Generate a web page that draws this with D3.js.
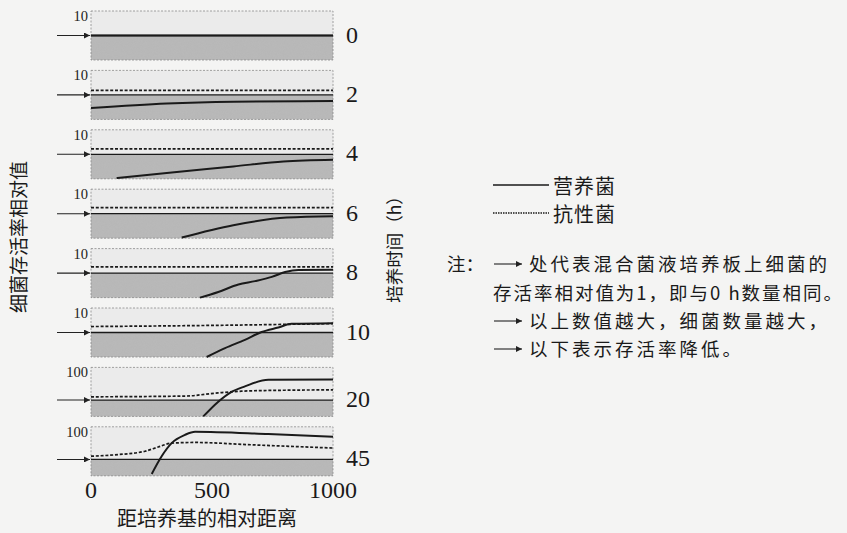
<!DOCTYPE html>
<html><head><meta charset="utf-8">
<script src="https://cdn.jsdelivr.net/npm/d3@7"></script>
<style>
html,body{margin:0;padding:0;background:#f4f4f3;}
svg{display:block;}
</style></head>
<body>
<svg id="chart" width="847" height="533"></svg>
<script>
// ---- data ----
const times = ["0", "2", "4", "6", "8", "10", "20", "45"];
const topTicks = [10, 10, 10, 10, 10, 10, 100, 100];
const xTicks = [0, 500, 1000];

// 营养菌 (solid) : [distance, relative survival]
const veg_0h  = [[0, 1], [1000, 1]];
const veg_2h  = [[0, 0.29], [313, 0.45], [588, 0.53], [1000, 0.56]];
const veg_4h  = [[106, 0.107], [313, 0.174], [588, 0.32], [795, 0.51], [1000, 0.6]];
const veg_6h  = [[375, 0.107], [588, 0.34], [809, 0.70], [1000, 0.79]];
const veg_8h  = [[450, 0.1], [526, 0.17], [609, 0.34], [678, 0.47], [747, 0.7], [802, 1.1], [857, 1.35], [1000, 1.38]];
const veg_10h = [[478, 0.1], [554, 0.23], [636, 0.5], [705, 1.05], [774, 1.6], [829, 2.25], [1000, 2.4]];
const veg_20h = [[464, 0.1], [526, 0.8], [581, 3.2], [636, 6.9], [733, 17.6], [1000, 18]];
const veg_45h = [[251, 0.13], [292, 1.58], [333, 10], [388, 32], [430, 50], [733, 36], [1000, 25]];

// 抗性菌 (dashed)
const res_0h  = [];
const res_2h  = [[0, 1.53], [1000, 1.53]];
const res_4h  = [[0, 1.65], [1000, 1.65]];
const res_6h  = [[0, 1.78], [1000, 1.78]];
const res_8h  = [[0, 1.78], [1000, 1.8]];
const res_10h = [[0, 1.75], [500, 1.95], [1000, 2.3]];
const res_20h = [[0, 1.58], [388, 1.76], [525, 2.75], [623, 3.5], [802, 4.0], [1000, 4.2]];
const res_45h = [[0, 1.58], [113, 2.0], [223, 3.2], [278, 5.8], [333, 10], [430, 11], [664, 7.9], [1000, 5.0]];

const vegSeries = [veg_0h, veg_2h, veg_4h, veg_6h, veg_8h, veg_10h, veg_20h, veg_45h];
const resSeries = [res_0h, res_2h, res_4h, res_6h, res_8h, res_10h, res_20h, res_45h];

const legendLabels = ["营养菌", "抗性菌"];
const noteLines = ["处代表混合菌液培养板上细菌的", "存活率相对值为1，即与0 h数量相同。", "以上数值越大，细菌数量越大，", "以下表示存活率降低。"];

// ---- drawing ----
const svg = d3.select("#chart");
const serif = "Liberation Serif, Times New Roman, serif";
const cjk = "Noto Sans CJK SC, Noto Sans, sans-serif";

const defs = svg.append("defs");
defs.append("marker").attr("id", "arr").attr("viewBox", "0 0 10 10")
  .attr("refX", 10).attr("refY", 5).attr("markerWidth", 7).attr("markerHeight", 6)
  .attr("markerUnits", "userSpaceOnUse").attr("orient", "auto")
  .append("path").attr("d", "M0,0 L10,5 L0,10 z").attr("fill", "#222");

const f = defs.append("filter").attr("id", "grain").attr("x", 0).attr("y", 0).attr("width", 1).attr("height", 1);
f.append("feTurbulence").attr("type", "fractalNoise").attr("baseFrequency", 0.9).attr("numOctaves", 2).attr("result", "n");
f.append("feColorMatrix").attr("in", "n").attr("type", "matrix")
  .attr("values", "0 0 0 0 0.45  0 0 0 0 0.45  0 0 0 0 0.45  0 0 0 0.35 0").attr("result", "g");
f.append("feComposite").attr("in", "g").attr("in2", "SourceGraphic").attr("operator", "in").attr("result", "gc");
const fm = f.append("feMerge");
fm.append("feMergeNode").attr("in", "SourceGraphic");
fm.append("feMergeNode").attr("in", "gc");

const x = d3.scaleLinear().domain([0, 1000]).range([91, 333]);
const panelH = 49, step = 59.4, firstTop = 11;

times.forEach((t, i) => {
  const top = firstTop + i * step;
  const y = d3.scaleLog().domain([0.1, topTicks[i]]).range([top + panelH, top]);
  const g = svg.append("g");
  const y1 = y(1);
  g.append("rect").attr("x", x(0)).attr("y", top).attr("width", x(1000) - x(0)).attr("height", y1 - top)
    .attr("fill", "#ebebeb");
  g.append("rect").attr("x", x(0)).attr("y", y1).attr("width", x(1000) - x(0)).attr("height", top + panelH - y1)
    .attr("fill", "#b9b9b9").attr("filter", "url(#grain)");
  g.append("rect").attr("x", x(0)).attr("y", top).attr("width", x(1000) - x(0)).attr("height", panelH)
    .attr("fill", "none").attr("stroke", "#8a8a8a").attr("stroke-width", 0.8).attr("stroke-dasharray", "2,1.5");
  g.append("line").attr("x1", x(0)).attr("x2", x(1000)).attr("y1", y1).attr("y2", y1)
    .attr("stroke", "#1a1a1a").attr("stroke-width", 1.3);
  g.append("line").attr("x1", 57).attr("x2", x(0) - 1).attr("y1", y1).attr("y2", y1)
    .attr("stroke", "#222").attr("stroke-width", 1.1).attr("marker-end", "url(#arr)");
  g.append("text").attr("x", 88).attr("y", top + 5).attr("text-anchor", "end")
    .attr("dominant-baseline", "central").attr("font-family", serif).attr("font-size", 14.5)
    .attr("fill", "#222").text(topTicks[i]);
  g.append("text").attr("x", 346).attr("y", y1 - 1).attr("dominant-baseline", "central")
    .attr("font-family", serif).attr("font-size", 24).attr("fill", "#1a1a1a").text(t);

  const line = d3.line().x(d => x(d[0])).y(d => y(d[1])).curve(d3.curveMonotoneX);
  if (resSeries[i].length) {
    g.append("path").attr("d", line(resSeries[i])).attr("fill", "none")
      .attr("stroke", "#1a1a1a").attr("stroke-width", 1.7).attr("stroke-dasharray", "3,1.8");
  }
  g.append("path").attr("d", line(vegSeries[i])).attr("fill", "none")
    .attr("stroke", "#1a1a1a").attr("stroke-width", 2);
});

svg.append("g").selectAll("text").data(xTicks).join("text")
  .attr("x", d => x(d)).attr("y", 490).attr("text-anchor", "middle").attr("dominant-baseline", "central")
  .attr("font-family", serif).attr("font-size", 24).attr("fill", "#1a1a1a").text(d => d);

svg.append("text").attr("x", 207).attr("y", 517).attr("text-anchor", "middle").attr("dominant-baseline", "central")
  .attr("font-family", cjk).attr("font-size", 20).attr("fill", "#1a1a1a").text("距培养基的相对距离");

svg.append("text").attr("transform", "translate(17,237) rotate(-90)").attr("text-anchor", "middle")
  .attr("dominant-baseline", "central").attr("font-family", cjk).attr("font-size", 19).attr("fill", "#1a1a1a")
  .text("细菌存活率相对值");

svg.append("text").attr("transform", "translate(393,245) rotate(-90)").attr("text-anchor", "middle")
  .attr("dominant-baseline", "central").attr("font-family", cjk).attr("font-size", 17.5).attr("fill", "#1a1a1a")
  .text("培养时间（h）");

const legY = [185, 213];
svg.append("line").attr("x1", 493).attr("x2", 549).attr("y1", legY[0]).attr("y2", legY[0])
  .attr("stroke", "#1a1a1a").attr("stroke-width", 1.6);
svg.append("line").attr("x1", 493).attr("x2", 549).attr("y1", legY[1]).attr("y2", legY[1])
  .attr("stroke", "#1a1a1a").attr("stroke-width", 1.3).attr("stroke-dasharray", "1.5,1");
legendLabels.forEach((l, k) => {
  svg.append("text").attr("x", 553).attr("y", legY[k]).attr("dominant-baseline", "central")
    .attr("font-family", cjk).attr("font-size", 20).attr("letter-spacing", 1).attr("fill", "#1a1a1a").text(l);
});

const noteY = [263, 292, 320, 348];
svg.append("text").attr("x", 447).attr("y", noteY[0]).attr("dominant-baseline", "central")
  .attr("font-family", cjk).attr("font-size", 18.5).attr("fill", "#1a1a1a").text("注：");
const arrowRows = [0, 2, 3];
arrowRows.forEach(r => {
  svg.append("line").attr("x1", 494).attr("x2", 522).attr("y1", noteY[r] + 1).attr("y2", noteY[r] + 1)
    .attr("stroke", "#222").attr("stroke-width", 1.1).attr("marker-end", "url(#arr)");
});
noteLines.forEach((s, r) => {
  const tx = svg.append("text").attr("x", r === 1 ? 493 : 529).attr("y", noteY[r]).attr("dominant-baseline", "central")
    .attr("font-family", cjk).attr("font-size", 18.5).attr("fill", "#1a1a1a").text(s);
  if (r === 1) tx.attr("textLength", 349).attr("lengthAdjust", "spacing");
  else tx.attr("letter-spacing", 3);
});
</script>
</body></html>
